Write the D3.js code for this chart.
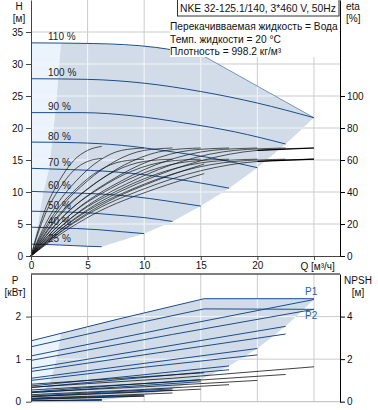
<!DOCTYPE html>
<html><head><meta charset="utf-8">
<script src="https://cdn.jsdelivr.net/npm/d3@7"></script>
<style>
body{margin:0;background:#fff;}
svg{display:block;font-family:"Liberation Sans",Arial,sans-serif;}
</style></head><body>
<svg id="c" width="378" height="410"></svg>
<script>
// ---------- data ----------
const speedLabels = ["110 %","100 %","90 %","80 %","70 %","60 %","50 %","40 %","25 %"];
const qTicks = [0,5,10,15,20];
const qGrid = [5,10,15,20,25];
const hTicks = [0,5,10,15,20,25,30,35];
const etaTicks = [0,20,40,60,80,100];
const pTicks = [0,1,2];
const npshTicks = [0,2,4];

// head curves H [m] vs Q [m3/h] per speed
const headCurves = [
  [[0,33.3],[5.5,33.2],[11,32.6],[15.3,31.2]],
  [[0,27.7],[5,27.6],[10,27.0],[15,25.7],[20,23.9],[25,21.6]],
  [[0,22.4],[4.5,22.4],[9,21.9],[13.5,20.8],[18,19.4],[22.5,17.5]],
  [[0,17.8],[4,17.7],[8,17.3],[12,16.4],[16,15.3],[20,13.8]],
  [[0,13.7],[3.5,13.5],[7,13.2],[10.5,12.6],[14,11.7],[17.5,10.6]],
  [[0,10.1],[3,9.9],[6,9.7],[9,9.3],[12,8.6],[15,7.8]],
  [[0,7.0],[2.5,6.9],[5,6.75],[7.5,6.4],[10,6.0],[12.5,5.4]],
  [[0,4.5],[2,4.4],[4,4.3],[6,4.1],[8,3.8],[10,3.5]],
  [[0,1.85],[1.25,1.8],[2.5,1.72],[3.75,1.62],[5,1.52],[6.25,1.45]]
];
// minimum-flow boundary Q per speed
const minFlowQ = [2.65,2.4,2.15,1.85,1.6,1.1,0.8,0.55,0.2];
// max power boundary in H chart
const headLimit = [[15.3,31.2],[25,21.6]];

// efficiency curves eta [%] (upper bundle)
const etaCurves = [
  [[0,0],[2.75,16],[5.5,29],[11,47],[15.3,57.5]],
  [[0,0],[2.5,16],[5,29],[10,47],[15,59.5],[20,66],[25,67.5]],
  [[0,0],[2.25,16],[4.5,29],[9,47],[13.5,59.5],[18,66],[22.5,67.5]],
  [[0,0],[2,16],[4,29],[8,47],[12,59.5],[16,66],[20,67.5]],
  [[0,0],[1.75,16],[3.5,29],[7,47],[10.5,59.5],[14,66],[17.5,67.5]],
  [[0,0],[1.5,16],[3,29],[6,47],[9,59.5],[12,66],[15,67.5]],
  [[0,0],[1.25,16],[2.5,29],[5,47],[7.5,59.5],[10,66],[12.5,67.5]],
  [[0,0],[1,16],[2,29],[4,47],[6,59.5],[8,66],[10,67.5]],
  [[0,0],[0.63,16],[1.25,29],[2.5,47],[3.75,59.5],[5,66],[6.25,68.5]]
];
// efficiency curves (lower bundle)
const etaTotalCurves = [
  [[0,0],[2.75,14.3],[5.5,26],[11,42],[15.3,51.5]],
  [[0,0],[2.5,14.3],[5,26],[10,42],[15,53.3],[20,59.1],[25,60.5]],
  [[0,0],[2.25,14.3],[4.5,26],[9,42],[13.5,53.3],[18,59.1],[22.5,60.5]],
  [[0,0],[2,14.3],[4,26],[8,42],[12,53.3],[16,59.1],[20,60.5]],
  [[0,0],[1.75,14.3],[3.5,26],[7,42],[10.5,53.3],[14,59.1],[17.5,60.5]],
  [[0,0],[1.5,14.3],[3,26],[6,42],[9,53.3],[12,59.1],[15,60.5]],
  [[0,0],[1.25,14.3],[2.5,26],[5,42],[7.5,53.3],[10,59.1],[12.5,60.5]],
  [[0,0],[1,14.3],[2,26],[4,42],[6,53.3],[8,59.1],[10,60.5]],
  [[0,0],[0.63,14.3],[1.25,26],[2.5,42],[3.75,53.3],[5,59.1],[6.25,61]]
];

// power P1 / P2 [kW]
const p1Curves = [
  [[0,1.43],[7.7,1.94],[15.3,2.42]],
  [[0,1.075],[12.5,1.75],[25,2.40]],
  [[0,0.78],[11.25,1.27],[22.5,1.77]],
  [[0,0.55],[10,0.90],[20,1.25]],
  [[0,0.37],[8.75,0.60],[17.5,0.84]],
  [[0,0.23],[7.5,0.38],[15,0.52]],
  [[0,0.134],[6.25,0.22],[12.5,0.30]],
  [[0,0.069],[5,0.112],[10,0.154]],
  [[0,0.017],[3.125,0.027],[6.25,0.037]]
];
const p2Curves = [
  [[0,1.29],[7.7,1.75],[15.3,2.18]],
  [[0,0.97],[12.5,1.58],[25,2.17]],
  [[0,0.71],[11.25,1.15],[22.5,1.59]],
  [[0,0.50],[10,0.81],[20,1.10]],
  [[0,0.33],[8.75,0.54],[17.5,0.75]],
  [[0,0.21],[7.5,0.34],[15,0.47]],
  [[0,0.12],[6.25,0.20],[12.5,0.27]],
  [[0,0.062],[5,0.10],[10,0.139]],
  [[0,0.015],[3.125,0.024],[6.25,0.034]]
];
const p1Limit = [[15.3,2.42],[25,2.42]];
const p2Limit = [[15.3,2.18],[25,2.17]];
// NPSH [m]
const npshCurves = [
  [[0,0.82],[7.7,1.09],[15.3,1.36]],
  [[0,0.68],[12.5,1.10],[25,1.64]],
  [[0,0.55],[11.25,0.89],[22.5,1.28]],
  [[0,0.44],[10,0.70],[20,1.00]],
  [[0,0.33],[8.75,0.54],[17.5,0.80]],
  [[0,0.24],[7.5,0.40],[15,0.59]],
  [[0,0.17],[6.25,0.275],[12.5,0.41]],
  [[0,0.11],[5,0.18],[10,0.26]],
  [[0,0.04],[3.125,0.07],[6.25,0.10]]
];
const titleText = "NKE 32-125.1/140, 3*460 V, 50Hz";
const infoLines = ["Перекачивваемая жидкость = Вода","Темп. жидкости = 20 °C","Плотность = 998.2 кг/м³"];

// ---------- drawing ----------
const svg = d3.select("#c");
const x = d3.scaleLinear().domain([0,27.3]).range([31,340]);
const yH = d3.scaleLinear().domain([0,40]).range([256,0]);
const yEta = d3.scaleLinear().domain([0,160]).range([256,0]);
const yP = d3.scaleLinear().domain([0,3]).range([401.7,274]);
const yN = d3.scaleLinear().domain([0,6]).range([401.7,274]);

const SHADE="#d1dce8", LIGHT="#ebf4fc", GRID="#cbcbcb", BLUE="#1b4d8c";

function interp(c,q){
  for(let i=1;i<c.length;i++){
    if(q<=c[i][0]){const a=c[i-1],b=c[i];const t=(q-a[0])/(b[0]-a[0]);return a[1]+t*(b[1]-a[1]);}
  }
  return c[c.length-1][1];
}
function lightPoly(curves,minQ){
  const n=curves.length, top=curves[0], bot=curves[n-1], pts=[];
  top.filter(p=>p[0]<minQ[0]).forEach(p=>pts.push(p));
  curves.forEach((c,i)=>pts.push([minQ[i],interp(c,minQ[i])]));
  bot.filter(p=>p[0]<minQ[n-1]).reverse().forEach(p=>pts.push(p));
  return pts;
}
function darkPoly(curves,minQ,limit){
  const n=curves.length, top=curves[0], bot=curves[n-1], pts=[];
  pts.push([minQ[0],interp(top,minQ[0])]);
  top.filter(p=>p[0]>minQ[0]).forEach(p=>pts.push(p));
  limit.slice(1).forEach(p=>pts.push(p));
  for(let i=1;i<n;i++){const c=curves[i];pts.push(c[c.length-1]);}
  bot.slice(0,-1).filter(p=>p[0]>minQ[n-1]).reverse().forEach(p=>pts.push(p));
  pts.push([minQ[n-1],interp(bot,minQ[n-1])]);
  for(let i=n-2;i>=1;i--) pts.push([minQ[i],interp(curves[i],minQ[i])]);
  return pts;
}

function drawPanel(yS, curves, limit, y0, y1, hLines, id){
  const lp = lightPoly(curves,minFlowQ), dp = darkPoly(curves,minFlowQ,limit);
  const area = d3.line().x(d=>x(d[0])).y(d=>yS(d[1]));
  const g = svg.append("g");
  qGrid.forEach(q=>g.append("line").attr("x1",x(q)).attr("x2",x(q)).attr("y1",y0).attr("y2",y1).attr("stroke",GRID));
  hLines.forEach(v=>g.append("line").attr("x1",31).attr("x2",340).attr("y1",yS(v)).attr("y2",yS(v)).attr("stroke",GRID));
  svg.append("path").attr("d",area(lp)+"Z").attr("fill",LIGHT);
  svg.append("path").attr("d",area(dp)+"Z").attr("fill",SHADE);
  const cp = svg.append("clipPath").attr("id",id);
  cp.append("path").attr("d",area(lp)+"Z");
  cp.append("path").attr("d",area(dp)+"Z");
  const gw = svg.append("g").attr("clip-path",`url(#${id})`);
  qGrid.forEach(q=>gw.append("line").attr("x1",x(q)).attr("x2",x(q)).attr("y1",y0).attr("y2",y1).attr("stroke","#f3f6fa"));
  hLines.forEach(v=>gw.append("line").attr("x1",31).attr("x2",340).attr("y1",yS(v)).attr("y2",yS(v)).attr("stroke","#f3f6fa"));
}

// ---- top panel ----
drawPanel(yH, headCurves, headLimit, 0, 256, [5,10,15,20,25,30,35], "clipTop");
const lineH = d3.line().x(d=>x(d[0])).y(d=>yH(d[1])).curve(d3.curveMonotoneX);
svg.append("path").attr("d",d3.line().x(d=>x(d[0])).y(d=>yH(d[1]))(headLimit)).attr("fill","none").attr("stroke","#5a7cab").attr("stroke-width",0.8);
headCurves.forEach(c=>svg.append("path").attr("d",lineH(c)).attr("fill","none").attr("stroke",BLUE).attr("stroke-width",1));
const lineE = d3.line().x(d=>x(d[0])).y(d=>yEta(d[1])).curve(d3.curveMonotoneX);
etaTotalCurves.forEach(c=>svg.append("path").attr("d",lineE(c)).attr("fill","none").attr("stroke","#111").attr("stroke-width",0.7));
etaCurves.forEach(c=>svg.append("path").attr("d",lineE(c)).attr("fill","none").attr("stroke","#111").attr("stroke-width",0.7));
[etaCurves[1],etaTotalCurves[1]].forEach(c=>svg.append("path").attr("d",lineE(c.slice(-2))).attr("fill","none").attr("stroke","#000").attr("stroke-width",1.2));
speedLabels.forEach((t,i)=>svg.append("text").attr("x",48).attr("y",yH(headCurves[i][0][1])-2.5).attr("font-size",10).attr("fill","#222").text(t));

// legend box
svg.append("rect").attr("x",170).attr("y",16).attr("width",169).attr("height",41).attr("fill","#fff");
svg.append("rect").attr("x",177.5).attr("y",-0.5).attr("width",161.5).attr("height",16.5).attr("fill","#fff").attr("stroke","#333");
svg.append("text").attr("x",180).attr("y",12.3).attr("font-size",10.3).attr("fill","#111").text(titleText);
infoLines.forEach((t,i)=>svg.append("text").attr("x",170).attr("y",30+i*12.5).attr("font-size",10.2).attr("fill","#111").text(t));

// axes top
function styleAxis(g,col){g.selectAll("text").attr("font-size",10).attr("fill","#111").attr("font-family","Liberation Sans, Arial, sans-serif");g.selectAll("line").attr("stroke",col);g.select(".domain").attr("stroke",col);}
const fmt = d3.format("d");
let ax = svg.append("g").attr("transform","translate(31,0)").call(d3.axisLeft(yH).tickValues(hTicks).tickFormat(fmt).tickSize(5).tickPadding(3).tickSizeOuter(0));
styleAxis(ax,"#444");
ax = svg.append("g").attr("transform","translate(340,0)").call(d3.axisRight(yEta).tickValues(etaTicks).tickFormat(fmt).tickSize(5).tickPadding(2).tickSizeOuter(0));
styleAxis(ax,"#000");
ax = svg.append("g").attr("transform","translate(0,256)").call(d3.axisBottom(x).tickValues(qTicks.concat([25])).tickFormat(d=>d===25?"":fmt(d)).tickSize(4).tickPadding(2).tickSizeOuter(0));
styleAxis(ax,"#444");
svg.append("text").attr("x",300.5).attr("y",269.5).attr("font-size",10).attr("fill","#111").text("Q [м³/ч]");
svg.append("text").attr("x",19).attr("y",9.5).attr("text-anchor","middle").attr("font-size",10).attr("fill","#111").text("H");
svg.append("text").attr("x",19).attr("y",22).attr("text-anchor","middle").attr("font-size",10).attr("fill","#111").text("[м]");
svg.append("text").attr("x",346).attr("y",10).attr("font-size",10).attr("fill","#111").text("eta");
svg.append("text").attr("x",346).attr("y",22).attr("font-size",10).attr("fill","#111").text("[%]");

// ---- bottom panel ----
drawPanel(yP, p1Curves, p1Limit, 274, 401.7, [1,2], "clipBot");
const lineP = d3.line().x(d=>x(d[0])).y(d=>yP(d[1]));
const lineN = d3.line().x(d=>x(d[0])).y(d=>yN(d[1]));
[p1Limit,p2Limit].forEach(c=>svg.append("path").attr("d",lineP(c)).attr("fill","none").attr("stroke",BLUE).attr("stroke-width",1));
p2Curves.forEach(c=>svg.append("path").attr("d",lineP(c)).attr("fill","none").attr("stroke",BLUE).attr("stroke-width",1));
p1Curves.forEach(c=>svg.append("path").attr("d",lineP(c)).attr("fill","none").attr("stroke",BLUE).attr("stroke-width",1));
npshCurves.forEach(c=>svg.append("path").attr("d",lineN(c)).attr("fill","none").attr("stroke","#111").attr("stroke-width",0.8));
svg.append("text").attr("x",305).attr("y",295).attr("font-size",10).attr("fill","#1f5fa8").text("P1");
svg.append("text").attr("x",305).attr("y",318.5).attr("font-size",10).attr("fill","#1f5fa8").text("P2");

svg.append("line").attr("x1",31).attr("x2",340).attr("y1",274).attr("y2",274).attr("stroke","#000");
svg.append("line").attr("x1",31).attr("x2",340).attr("y1",401.7).attr("y2",401.7).attr("stroke","#bbb");
ax = svg.append("g").attr("transform","translate(31,0)").call(d3.axisLeft(yP).tickValues(pTicks).tickFormat(fmt).tickSize(5).tickPadding(5).tickSizeOuter(0));
styleAxis(ax,"#444");
ax = svg.append("g").attr("transform","translate(340,0)").call(d3.axisRight(yN).tickValues(npshTicks).tickFormat(fmt).tickSize(5).tickPadding(2).tickSizeOuter(0));
styleAxis(ax,"#000");
svg.append("text").attr("x",15).attr("y",283.5).attr("text-anchor","middle").attr("font-size",10).attr("fill","#111").text("P");
svg.append("text").attr("x",15).attr("y",296).attr("text-anchor","middle").attr("font-size",10).attr("fill","#111").text("[кВт]");
svg.append("text").attr("x",358).attr("y",284).attr("text-anchor","middle").attr("font-size",10).attr("fill","#111").text("NPSH");
svg.append("text").attr("x",358).attr("y",296).attr("text-anchor","middle").attr("font-size",10).attr("fill","#111").text("[м]");
</script>
</body></html>
